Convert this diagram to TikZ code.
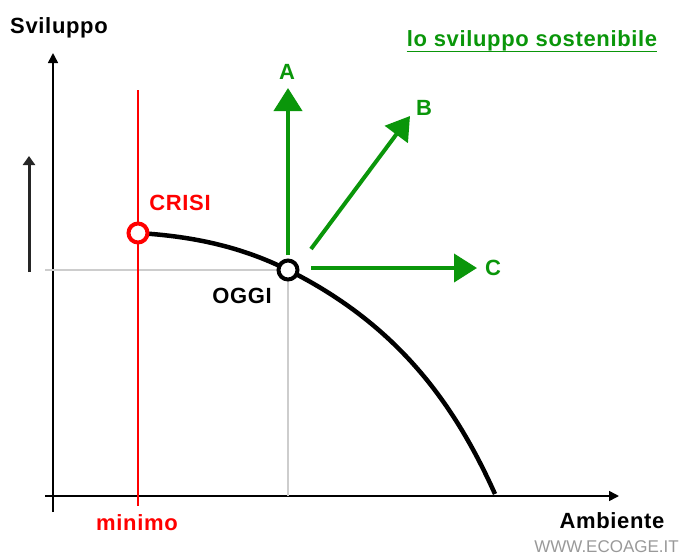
\documentclass[tikz,border=0pt]{standalone}
\usepackage{fontspec}
\setmainfont{Liberation Sans}
\newfontfamily\lbfont[LetterSpace=3]{Liberation Sans}
\usetikzlibrary{arrows.meta}
\definecolor{grn}{RGB}{10,150,10}
\definecolor{wred}{RGB}{255,0,0}
\definecolor{lgray}{RGB}{205,205,205}
\begin{document}
\begin{tikzpicture}[x=1pt,y=-1pt,
  lbl/.style={font=\lbfont\bfseries\fontsize{22}{24}\selectfont, inner sep=0pt},
  axis/.style={line width=1.6pt, -{Triangle[length=10pt,width=10pt]}},
  garrow/.style={grn, line width=4pt, -{Triangle[length=23pt,width=28pt]}},
  pt/.style={circle, line width=4pt, minimum size=19pt, inner sep=0pt, fill=white},
  guide/.style={lgray, line width=1.5pt}]
\useasboundingbox (0,0) rectangle (681,558);
% axes
\coordinate (yb) at (53,512);
\coordinate (yt) at (53,53);
\coordinate (xl) at (45,496);
\coordinate (xr) at (619,496);
\draw[axis] (yb) -- (yt);
\draw[axis] (xl) -- (xr);
% small arrow
\coordinate (sb) at (29,272);
\coordinate (st) at (29,156);
\draw[line width=3pt, black!85, -{Triangle[length=9pt,width=12pt]}] (sb) -- (st);
% guides
\coordinate (gl) at (45,270);
\coordinate (gb) at (288,496);
\coordinate (oggipt) at (288,270);
\draw[guide] (gl) -- (oggipt) -- (gb);
% red minimum line
\coordinate (rt) at (138,90);
\coordinate (rb) at (138,506);
\draw[wred, line width=1.5pt] (rt) -- (rb);
% curve
\coordinate (cend) at (495,494);
\draw[line width=4.5pt] (138,233) .. controls (188,236) and (238,245) .. (oggipt)
  .. controls (398,325) and (454.5,404) .. (cend);
\node[pt, draw=wred] (crisi) at (138,233) {};
\node[pt, draw=black] (oggi) at (oggipt) {};
% green arrows
\coordinate (as) at (288,255);
\coordinate (at) at (288,88);
\coordinate (bs) at (311,249);
\coordinate (bt) at (410,116);
\coordinate (cs) at (311,268);
\coordinate (ct) at (477,268);
\draw[garrow] (as) -- (at);
\draw[garrow] (bs) -- (bt);
\draw[garrow] (cs) -- (ct);
% labels
\node[lbl] (sv) at (59,28) {Sviluppo};
\node[lbl, text=grn] (la) at (287,72) {A};
\node[lbl, text=grn] (lb) at (424,108) {B};
\node[lbl, text=grn] (lc) at (493,268) {C};
\node[lbl, text=wred] (lcrisi) at (180,203) {CRISI};
\node[lbl] (loggi) at (242,296) {OGGI};
\node[lbl, text=wred] (lmin) at (137,523) {minimo};
\node[lbl] (lamb) at (612,521) {Ambiente};
\node[lbl, text=grn] (title) at (532,41) {lo sviluppo sostenibile};
\draw[grn, line width=1.6pt] ([yshift=-5pt]title.base west) -- ([yshift=-5pt]title.base east);
\node[inner sep=0pt, anchor=east, text=black!40, font=\fontsize{17}{19}\selectfont] (www) at (679,547) {WWW.ECOAGE.IT};
\end{tikzpicture}
\end{document}
